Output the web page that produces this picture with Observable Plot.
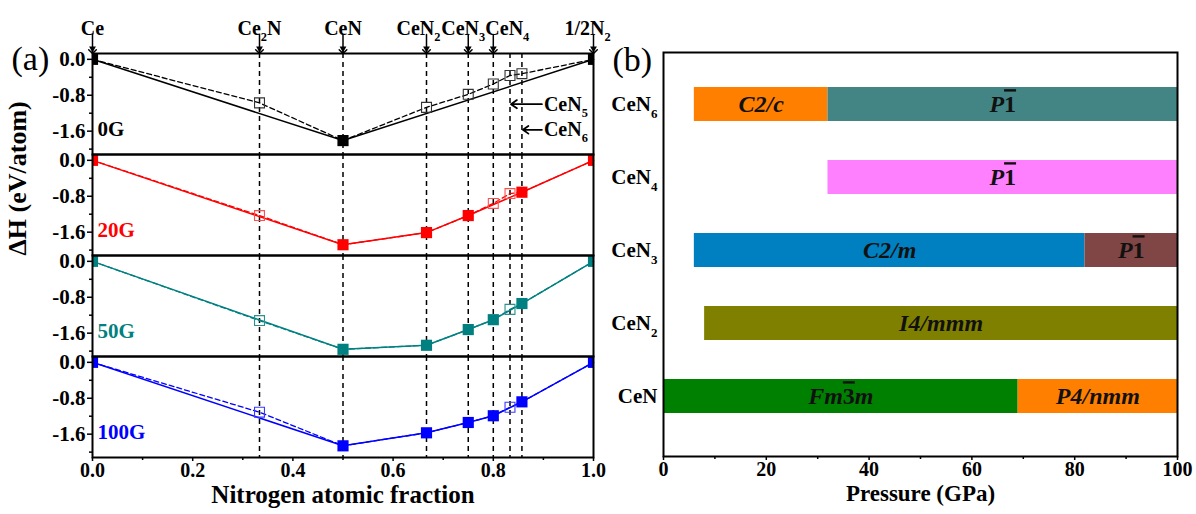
<!DOCTYPE html>
<html><head><meta charset="utf-8">
<script src="https://cdn.jsdelivr.net/npm/d3@7"></script>
<script src="https://cdn.jsdelivr.net/npm/@observablehq/plot@0.6"></script>
<style>
html,body{margin:0;padding:0;background:#fff;}
#wrap{display:flex;width:1196px;height:514px;overflow:hidden;}
#wrap svg{overflow:visible;display:block;}
</style></head><body><div id="wrap"></div>
<script>
// ---------- Panel (a): formation enthalpy vs nitrogen fraction ----------
const compounds = ["Ce", "Ce_2N", "CeN", "CeN_2", "CeN_3", "CeN_4", "CeN_5", "CeN_6", "1/2N_2"];
const fractions = [0, 1/3, 1/2, 2/3, 3/4, 4/5, 5/6, 6/7, 1];
const fields = ["0G", "20G", "50G", "100G"];
const dH_0G   = [0, -0.97, -1.81, -1.07, -0.78, -0.55, -0.36, -0.32, 0];
const dH_20G  = [0, -1.23, -1.88, -1.61, -1.23, -0.96, -0.74, -0.71, 0];
const dH_50G  = [0, -1.32, -1.96, -1.87, -1.52, -1.30, -1.07, -0.94, 0];
const dH_100G = [0, -1.11, -1.86, -1.57, -1.34, -1.19, -1.00, -0.88, 0];
// 1 = on the convex hull (filled square), 0 = above it (open square)
const stable_0G   = [1, 0, 1, 0, 0, 0, 0, 0, 1];
const stable_20G  = [1, 0, 1, 1, 1, 0, 0, 1, 1];
const stable_50G  = [1, 0, 1, 1, 1, 1, 0, 1, 1];
const stable_100G = [1, 0, 1, 1, 1, 1, 0, 1, 1];
const topLabels = ["Ce", "Ce_2N", "CeN", "CeN_2", "CeN_3", "CeN_4", "1/2N_2"];
const topLabelFractions = [0, 1/3, 1/2, 2/3, 3/4, 4/5, 1];
const sideNotes = ["CeN_5", "CeN_6"];
const sideNoteFractions = [5/6, 6/7];
const sideNoteDH = [-1.0, -1.57];
const xTicksA = [0, 0.2, 0.4, 0.6, 0.8, 1.0];
const xMinorA = [0.1, 0.3, 0.5, 0.7, 0.9];
const yTicksA = [0, -0.8, -1.6];
const yMinorA = [-0.4, -1.2, -2.0];

// ---------- Panel (b): stable phases vs pressure ----------
const phaseCompounds = ["CeN_6", "CeN_4", "CeN_3", "CeN_2", "CeN"];
const segCompound = ["CeN_6", "CeN_6", "CeN_4", "CeN_3", "CeN_3", "CeN_2", "CeN", "CeN"];
const segStart    = [6, 32, 32, 6, 82, 8, 0, 69];
const segEnd      = [32, 100, 100, 82, 100, 100, 69, 100];
const segName     = ["C2/c", "P~1", "P~1", "C2/m", "P~1", "I4/mmm", "Fm~3m", "P4/nmm"];
const xTicksB = [0, 20, 40, 60, 80, 100];
const xMinorB = [10, 30, 50, 70, 90];

// ---------- styles ----------
const fieldColors = ["#000000", "#ff0000", "#008080", "#0000ff"];
const openColors  = ["#333333", "#ff5050", "#2a9090", "#3a3aff"];
const segColors = ["#ff8000", "#438585", "#ff80ff", "#0080c0", "#804545", "#808000", "#008000", "#ff8000"];
const labelNudge = [0, 0, 0, -8, -5, 14, -6];
const FONT = "'Liberation Serif', 'Times New Roman', serif";

// ---------- build tables ----------
const dHs = [dH_0G, dH_20G, dH_50G, dH_100G];
const stables = [stable_0G, stable_20G, stable_50G, stable_100G];
const rows = fields.flatMap((f, i) => fractions.map((x, j) => ({
  field: f, x, y: dHs[i][j], stable: stables[i][j] === 1,
  color: fieldColors[i], open: openColors[i], compound: compounds[j]
})));
const stableRows = rows.filter(d => d.stable);
const openRows = rows.filter(d => !d.stable);
const guideX = fractions.slice(1, -1);
const tops = topLabels.map((t, i) => ({label: t, x: topLabelFractions[i], nudge: labelNudge[i]}));
const notes = sideNotes.map((t, i) => ({label: t, x: sideNoteFractions[i], y: sideNoteDH[i]}));
const segments = segName.map((n, i) => ({id: i, name: n, compound: segCompound[i], start: segStart[i], end: segEnd[i]}));

const downTriangle = {draw(ctx, size) {
  const w = Math.sqrt(size) * 0.6, h = Math.sqrt(size) * 0.55;
  ctx.moveTo(-w, -h); ctx.lineTo(w, -h); ctx.lineTo(0, h); ctx.closePath();
}};

const plotA = Plot.plot({
  width: 612, height: 514,
  marginLeft: 92, marginRight: 19, marginTop: 52, marginBottom: 56,
  style: {fontFamily: FONT, fontSize: "20px", fontWeight: "bold", color: "#000", background: "transparent"},
  x: {domain: [0, 1], label: null},
  y: {domain: [-2.12, 0.13], label: null},
  fy: {domain: fields, padding: 0, axis: null, label: null},
  marks: [
    Plot.ruleX(guideX, {stroke: "#000", strokeWidth: 1.5, strokeDasharray: "5,4"}),
    Plot.line(rows, {x: "x", y: "y", fy: "field", z: "field", stroke: "color", strokeWidth: 1.3, strokeDasharray: "5,3"}),
    Plot.line(stableRows, {x: "x", y: "y", fy: "field", z: "field", stroke: "color", strokeWidth: 1.5}),
    Plot.dot(openRows, {x: "x", y: "y", fy: "field", symbol: "square", r: 5.6, stroke: "open", fill: "none", strokeWidth: 1.1}),
    Plot.dot(stableRows, {x: "x", y: "y", fy: "field", symbol: "square", r: 6.3, fill: "color", clip: "frame"}),
    Plot.frame({stroke: "#000", strokeWidth: 2}),
    Plot.axisY({ticks: yTicksA, tickFormat: d => d.toFixed(1), tickSize: 5, tickPadding: 2, label: null, strokeWidth: 1.5, fontSize: 21}),
    Plot.axisY({ticks: yMinorA, tickFormat: () => "", tickSize: 3, label: null, strokeWidth: 1.5}),
    Plot.axisX({ticks: xTicksA, tickFormat: d => d.toFixed(1), tickSize: 4, tickPadding: 1, label: null, strokeWidth: 1.5, fontSize: 20}),
    Plot.axisX({ticks: xMinorA, tickFormat: () => "", tickSize: 3, label: null, strokeWidth: 1.5}),
    // panel labels
    Plot.text(fields, {fy: d => d, text: d => d, frameAnchor: "bottom-left", dx: 5, dy: -19, textAnchor: "start",
      fill: (d, i) => fieldColors[i], fontSize: 21}),
    // compound labels + arrows on top
    ...tops.map(d => Plot.text([d], {x: "x", fy: () => "0G", text: "label", frameAnchor: "top", dy: -33, dx: d.nudge, fontSize: 20})),
    Plot.vector(tops, {x: "x", fy: () => "0G", frameAnchor: "top", rotate: 180, length: 19, anchor: "end", shape: "arrow", stroke: "#000", strokeWidth: 1.5}),
    Plot.dot(tops, {x: "x", fy: () => "0G", frameAnchor: "top", dy: -4, symbol: downTriangle, r: 3.2, fill: "#000"}),
    // CeN5 / CeN6 side notes
    Plot.arrow(notes, {x1: () => 0.897, y1: "y", x2: "x", y2: "y", fy: () => "0G", stroke: "#000", strokeWidth: 1.8, headLength: 6, headAngle: 70, insetEnd: 1}),
    Plot.text(notes, {x: () => 0.897, y: "y", fy: () => "0G", text: "label", textAnchor: "start", dx: 2, fontSize: 20}),
    // axis titles and panel tag
    Plot.text(["ΔH (eV/atom)"], {fy: () => "20G", frameAnchor: "bottom-left", rotate: -90, dx: -67, text: d => d, fontSize: 26}),
    Plot.text(["Nitrogen atomic fraction"], {fy: () => "100G", frameAnchor: "bottom", dy: 45, text: d => d, fontSize: 25}),
    Plot.text(["(a)"], {fy: () => "0G", frameAnchor: "top-left", dx: -81, dy: -8, textAnchor: "start", text: d => d, fontSize: 34, fontWeight: "normal"})
  ]
});

const plotB = Plot.plot({
  width: 584, height: 514,
  marginLeft: 51, marginRight: 19, marginTop: 52, marginBottom: 58,
  style: {fontFamily: FONT, fontSize: "20px", fontWeight: "bold", color: "#000", background: "transparent"},
  x: {domain: [0, 100], label: null},
  y: {domain: phaseCompounds, paddingInner: 0.54, paddingOuter: 0.5, align: 0.45, label: null},
  color: {domain: segments.map(d => d.id), range: segColors},
  marks: [
    Plot.barX(segments, {x1: "start", x2: "end", y: "compound", fill: "id"}),
    Plot.text(segments, {x: d => (d.start + d.end) / 2, y: "compound", text: "name", fontStyle: "italic", fontSize: 24, fill: "#111"}),
    Plot.frame({stroke: "#000", strokeWidth: 2}),
    Plot.axisX({ticks: xTicksB, tickSize: 4, tickPadding: 1, label: null, strokeWidth: 1.5, fontSize: 20}),
    Plot.axisX({ticks: xMinorB, tickFormat: () => "", tickSize: 3, label: null, strokeWidth: 1.5}),
    Plot.axisY({tickSize: 0, tickPadding: 6, label: null, fontSize: 21}),
    Plot.text(["Pressure (GPa)"], {frameAnchor: "bottom", dy: 44, text: d => d, fontSize: 23}),
    Plot.text(["(b)"], {frameAnchor: "top-left", dx: -51, dy: -6, textAnchor: "start", text: d => d, fontSize: 34, fontWeight: "normal"})
  ]
});

const wrap = document.getElementById("wrap");
wrap.appendChild(plotA);
wrap.appendChild(plotB);

// rich text: "_d" = subscript digit, "~d" = overlined digit
function richify(svg) {
  const NS = "http://www.w3.org/2000/svg";
  svg.querySelectorAll("text").forEach(t => {
    const s = t.textContent;
    if (!/[_~]/.test(s)) return;
    const fs = parseFloat(getComputedStyle(t).fontSize) || 20;
    while (t.firstChild) t.removeChild(t.firstChild);
    let buf = "", shifted = false, i = 0;
    const flush = () => {
      if (!buf) return;
      const sp = document.createElementNS(NS, "tspan");
      sp.textContent = buf;
      if (shifted) { sp.setAttribute("dy", (-0.3 * fs).toFixed(2)); shifted = false; }
      t.appendChild(sp); buf = "";
    };
    while (i < s.length) {
      const c = s[i];
      if (c === "_" && i + 1 < s.length) {
        flush();
        const sp = document.createElementNS(NS, "tspan");
        sp.textContent = s[i + 1];
        sp.setAttribute("dy", (0.3 * fs).toFixed(2));
        sp.setAttribute("style", "font-size:" + (0.62 * fs).toFixed(1) + "px");
        t.appendChild(sp); shifted = true; i += 2;
      } else if (c === "~" && i + 1 < s.length) {
        flush();
        const sp = document.createElementNS(NS, "tspan");
        sp.textContent = s[i + 1];
        sp.setAttribute("style", "text-decoration:overline;font-style:normal");
        t.appendChild(sp); i += 2;
      } else { buf += c; i++; }
    }
    flush();
  });
}
richify(plotA);
richify(plotB);
</script></body></html>
